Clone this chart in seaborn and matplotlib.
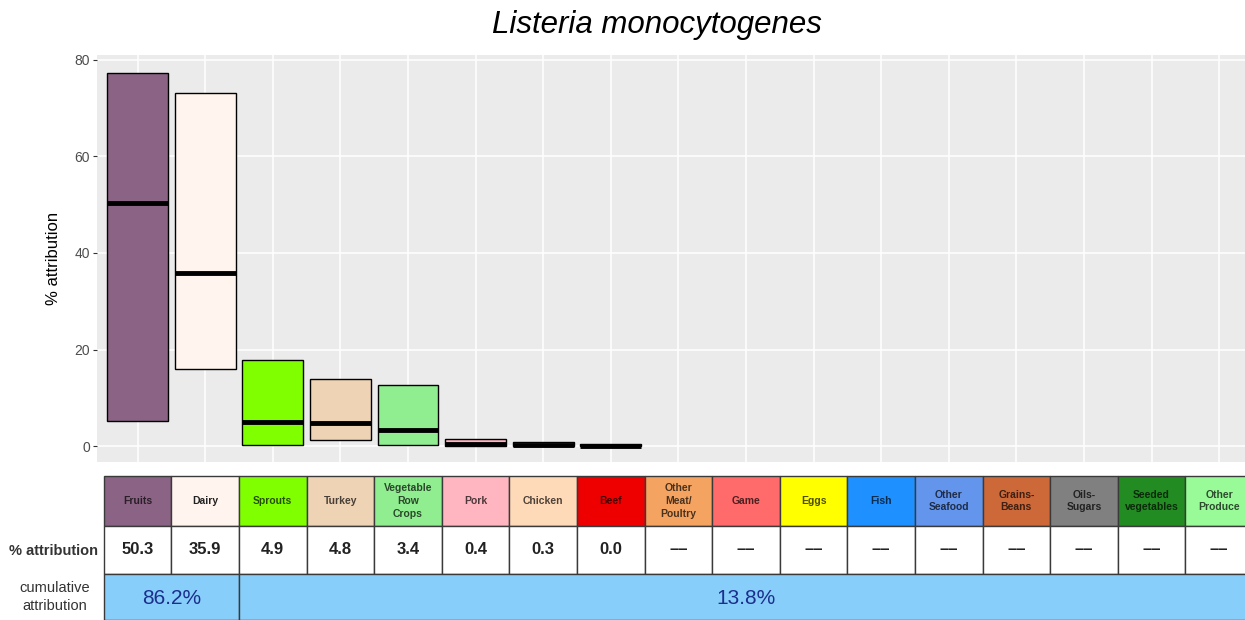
import numpy as np
import pandas as pd
import matplotlib
matplotlib.use("Agg")
import matplotlib.pyplot as plt
from matplotlib.patches import Rectangle
import matplotlib.colors as mcolors
import seaborn as sns

# Source categories (order as on the x axis)
categories = ["Fruits", "Dairy", "Sprouts", "Turkey", "Vegetable Row Crops", "Pork",
              "Chicken", "Beef", "Other Meat/Poultry", "Game", "Eggs", "Fish",
              "Other Seafood", "Grains-Beans", "Oils-Sugars", "Seeded vegetables",
              "Other Produce"]
cell_labels = ["Fruits", "Dairy", "Sprouts", "Turkey", "Vegetable\nRow\nCrops", "Pork",
               "Chicken", "Beef", "Other\nMeat/\nPoultry", "Game", "Eggs", "Fish",
               "Other\nSeafood", "Grains-\nBeans", "Oils-\nSugars", "Seeded\nvegetables",
               "Other\nProduce"]
colors = ["#8B6384", "#FFF5EE", "#7FFF00", "#EFD3B5", "#90EE90", "#FFB6C1",
          "#FFDAB9", "#EE0000", "#F4A460", "#FF6A6A", "#FFFF00", "#1E90FF",
          "#6495ED", "#CD6839", "#808080", "#228B22", "#98FB98"]

# credible intervals + median, only for sources with attribution
est_sources = ["Fruits", "Dairy", "Sprouts", "Turkey", "Vegetable Row Crops", "Pork",
               "Chicken", "Beef"]
median = [50.3, 35.9, 4.9, 4.8, 3.4, 0.4, 0.3, 0.0]
low = [5.2, 16.0, 0.2, 1.2, 0.3, 0.0, 0.0, 0.0]
high = [77.3, 73.2, 17.8, 13.9, 12.6, 1.5, 0.9, 0.5]

attribution_text = ["50.3", "35.9", "4.9", "4.8", "3.4", "0.4", "0.3", "0.0"] + ["\u2013\u2013"] * 9
cum_labels = ["86.2%", "13.8%"]
cum_ncols = [2, 15]

df = pd.DataFrame({"source": est_sources, "low": low, "high": high, "median": median})
df["span"] = df["high"] - df["low"]

sns.set_theme(style="darkgrid", rc={"axes.facecolor": "#EBEBEB", "grid.color": "white",
                                    "grid.linewidth": 1.1})
plt.rcParams["font.family"] = ["Liberation Sans", "DejaVu Sans"]

fig = plt.figure(figsize=(12.45, 6.2), dpi=100)
W, H = 1245, 620
left_px = 97
ax = fig.add_axes([left_px / W, (H - 462) / H, 1 - left_px / W, (462 - 55) / H])

sns.barplot(data=df, x="source", y="span", order=categories, bottom=df["low"].values,
            color="white", width=0.9, saturation=1, edgecolor="black", linewidth=1,
            errorbar=None, ax=ax)
for patch, src in zip(ax.patches, est_sources):
    patch.set_facecolor(colors[categories.index(src)])

xpos = np.array([categories.index(s) for s in est_sources])
ax.hlines(df["median"], xpos - 0.45, xpos + 0.45, color="black", linewidth=3.5, zorder=5)

x_hi = -0.6 + (W - left_px) / 67.6
ax.set_xlim(-0.6, x_hi)
ax.set_ylim(-3.3, 81.0)
ax.set_yticks([0, 20, 40, 60, 80])
ax.set_xticks(range(len(categories)))
ax.set_xticklabels([])
ax.set_xlabel("")
ax.set_ylabel("% attribution", fontsize=12, color="black", labelpad=10)
ax.tick_params(axis="y", left=True, length=3, width=0.8, color="#333333",
               labelcolor="#4D4D4D", labelsize=10, pad=2)
ax.tick_params(axis="x", length=0)
ax.grid(True, which="major")
for s in ax.spines.values():
    s.set_visible(False)

fig.text(657 / W, (H - 25) / H, "Listeria monocytogenes", ha="center", va="center",
         fontsize=22.5, style="italic", color="black")

# table below the plot
tax = fig.add_axes([left_px / W, 0, 1 - left_px / W, (H - 476) / H])
tax.set_xlim(-0.6, x_hi)
tax.set_ylim(144, 0)
tax.axis("off")
edge = "#3A3A3A"


def darker(c, f=0.3):
    r, g, b = mcolors.to_rgb(c)
    return (r * f, g * f, b * f)


for i, (lab, col, val) in enumerate(zip(cell_labels, colors, attribution_text)):
    tax.add_patch(Rectangle((i - 0.5, 0), 1, 50, facecolor=col, edgecolor=edge,
                            linewidth=1, clip_on=False))
    tc = darker(col) if mcolors.rgb_to_hsv(mcolors.to_rgb(col))[1] > 0.2 else "#222222"
    tax.text(i, 25, lab, ha="center", va="center", fontsize=7.5, fontweight="bold",
             color=tc, linespacing=1.35)
    tax.add_patch(Rectangle((i - 0.5, 50), 1, 48, facecolor="white", edgecolor=edge,
                            linewidth=1, clip_on=False))
    tax.text(i, 74, val, ha="center", va="center", fontsize=12, fontweight="bold",
             color="#222222")

start = 0
for lab, n in zip(cum_labels, cum_ncols):
    tax.add_patch(Rectangle((start - 0.5, 98), n, 46, facecolor="#87CEFA", edgecolor=edge,
                            linewidth=1, clip_on=False))
    tax.text(start - 0.5 + n / 2, 122, lab, ha="center", va="center", fontsize=15,
             color="#1C2F8C")
    start += n

fig.text(98 / W, (H - 551) / H, "% attribution", ha="right", va="center", fontsize=10.5,
         fontweight="bold", color="#333333")
fig.text(55 / W, (H - 597) / H, "cumulative\nattribution", ha="center", va="center",
         fontsize=10.5, color="#333333", linespacing=1.3)

fig.savefig("out.png", dpi=100)
